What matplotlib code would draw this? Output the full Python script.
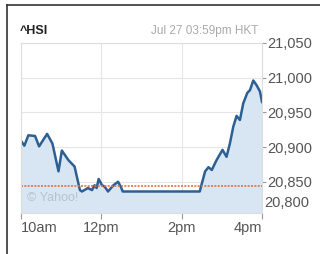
import matplotlib
matplotlib.use('Agg')
import matplotlib.pyplot as plt
from matplotlib.lines import Line2D
import numpy as np

# ^HSI intraday, Jul 27
times = ['10:00', '10:05', '10:11', '10:21', '10:27', '10:39', '10:47', '10:56',
         '11:01', '11:11', '11:20', '11:28', '11:31', '11:40', '11:46', '11:50',
         '11:53', '11:56', '12:01', '12:05', '12:10', '12:18', '12:25', '12:29',
         '12:32', '14:27', '14:35', '14:40', '14:45', '14:52', '15:01', '15:07',
         '15:12', '15:17', '15:22', '15:27', '15:32', '15:38', '15:42', '15:47',
         '15:52', '15:57', '16:00']
prices = [20909, 20902, 20917, 20916, 20901, 20919, 20905, 20865,
          20895, 20881, 20872, 20838, 20836, 20841, 20838, 20845,
          20841, 20854, 20845, 20843, 20836, 20845, 20850, 20843,
          20836, 20836, 20865, 20871, 20867, 20881, 20896, 20886,
          20905, 20929, 20945, 20939, 20963, 20978, 20982, 20996,
          20989, 20980, 20965]
prev_close = 20844

tick_hours = [10, 12, 14, 16]
tick_labels = ['10am', '12pm', '2pm', '4pm']
y_ticks = [20850, 20900, 20950, 21000, 21050]
y_labels = ['20,850', '20,900', '20,950', '21,000', '21,050']

hours = np.array([int(t[:2]) + int(t[3:]) / 60 for t in times])
prices = np.array(prices)

fnt = ['Liberation Sans Narrow', 'Liberation Sans', 'DejaVu Sans']
plt.rcParams['font.family'] = fnt

fig = plt.figure(figsize=(3.2, 2.54), dpi=100)
ax = fig.add_axes([21/320, 1 - 213/254, 241/320, 170/254])

ymin, ymax = 20805, 21050
ax.fill_between(hours, prices, ymin, color='#d7e6f2', lw=0)
ax.plot(hours, prices, color='#2c5f92', lw=1.8, solid_joinstyle='round')
ax.axhline(prev_close, color='#e8703f', lw=1.2, ls=(0, (1.2, 0.8)))

ax.text(10.15, 20826, '\u00a9 Yahoo!', color='#b3c4d1', fontsize=9, va='center')

ax.set_xlim(10, 16)
ax.set_ylim(ymin, ymax)
ax.set_xticks(tick_hours)
ax.set_xticklabels(tick_labels, fontsize=10.5, color='#555555')
xl = ax.get_xticklabels()
xl[0].set_ha('left')
xl[-1].set_ha('right')
ax.set_yticks(y_ticks)
ax.set_yticklabels(y_labels, fontsize=10.5, color='#555555')
ax.yaxis.tick_right()
ax.tick_params(axis='y', length=3, color='#999999', pad=1)
ax.tick_params(axis='x', length=4, color='#999999', pad=2)

# 20,800 label squeezed in under 20,850 like the original
ax.text(1.01, 20820, '20,800', transform=ax.get_yaxis_transform(),
        fontsize=10.5, color='#555555', va='center', ha='left')

ax.grid(True, color='#e6e6e6', lw=0.8)
ax.set_axisbelow(True)
for s in ax.spines.values():
    s.set_color('#dddddd')
    s.set_linewidth(0.8)

fig.text(20/320, 1 - 31/254, '^HSI', fontsize=9, fontweight='bold',
         color='#222222', va='center')
fig.text(258/320, 1 - 31/254, 'Jul 27 03:59pm HKT', fontsize=8.5,
         color='#aaaaaa', va='center', ha='right')

# partial frame of the cropped screenshot
fig.add_artist(Line2D([7/320, 7/320], [0, 1 - 5/254], color='#333333', lw=1.2))
fig.add_artist(Line2D([7/320, 1], [1 - 5/254, 1 - 5/254], color='#333333', lw=1.2))

fig.savefig('out.png', dpi=100, facecolor='white')
